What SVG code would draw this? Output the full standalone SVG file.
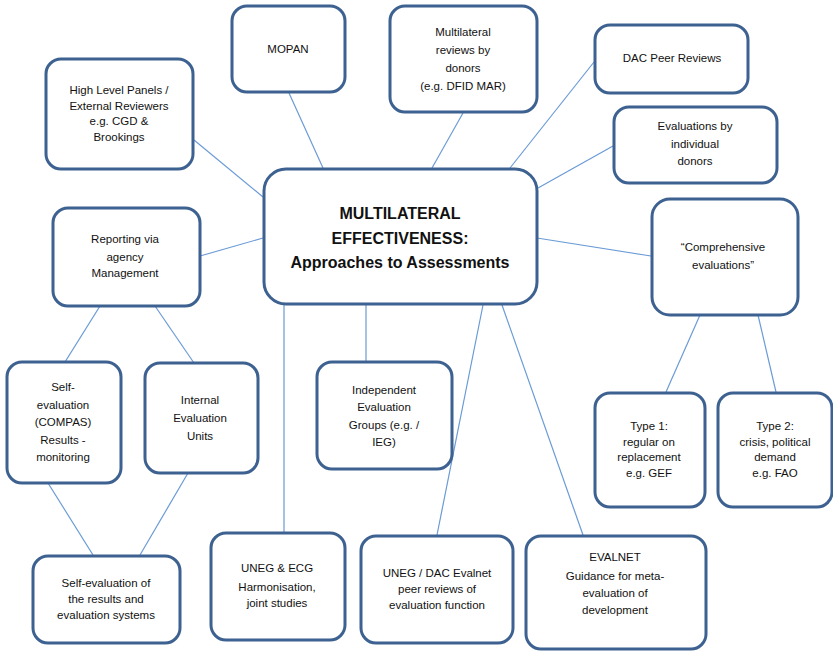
<svg xmlns="http://www.w3.org/2000/svg" width="833" height="651" viewBox="0 0 833 651">
<style>
.box{fill:#fff;stroke:#3d6190;stroke-width:3}
.ln{stroke:#6b9bd6;stroke-width:1.2;fill:none}
text{font-family:"Liberation Sans","Noto Sans",sans-serif;font-size:11.5px;fill:#111;text-anchor:middle}
.big{font-size:16px;font-weight:bold}
</style>
<rect width="833" height="651" fill="#fff"/>
<g id="connectors">
<line class="ln" x1="194" y1="140" x2="263" y2="197"/>
<line class="ln" x1="289" y1="93" x2="323" y2="168"/>
<line class="ln" x1="463" y1="113" x2="432" y2="168"/>
<line class="ln" x1="594" y1="62" x2="510" y2="168"/>
<line class="ln" x1="613" y1="146" x2="538" y2="188"/>
<line class="ln" x1="200" y1="256" x2="263" y2="238"/>
<line class="ln" x1="537" y1="238" x2="651" y2="256"/>
<line class="ln" x1="100" y1="306" x2="65" y2="362"/>
<line class="ln" x1="155" y1="306" x2="194" y2="363"/>
<line class="ln" x1="366" y1="305" x2="366" y2="361"/>
<line class="ln" x1="284" y1="305" x2="284" y2="532"/>
<line class="ln" x1="483" y1="305" x2="437" y2="535"/>
<line class="ln" x1="502" y1="305" x2="583" y2="535"/>
<line class="ln" x1="700" y1="315" x2="666" y2="392"/>
<line class="ln" x1="758" y1="315" x2="776" y2="392"/>
<line class="ln" x1="48" y1="483" x2="93" y2="555"/>
<line class="ln" x1="188" y1="473" x2="140" y2="555"/>
</g>
<g id="center">
<rect class="box" x="264" y="169" width="273" height="135" rx="22"/>
<text class="big" x="400" y="219">MULTILATERAL</text>
<text class="big" x="400" y="244">EFFECTIVENESS:</text>
<text class="big" x="400" y="268">Approaches to Assessments</text>
</g>
<g id="mopan">
<rect class="box" x="232" y="6" width="113" height="86" rx="15"/>
<text x="288" y="53">MOPAN</text>
</g>
<g id="highlevel">
<rect class="box" x="46" y="59" width="147" height="110" rx="15"/>
<text x="119" y="94">High Level Panels /</text>
<text x="119" y="110">External Reviewers</text>
<text x="119" y="125">e.g. CGD  &amp;</text>
<text x="119" y="141">Brookings</text>
</g>
<g id="multilateral">
<rect class="box" x="390" y="6" width="147" height="106" rx="15"/>
<text x="463" y="36">Multilateral</text>
<text x="463" y="54">reviews by</text>
<text x="463" y="72">donors</text>
<text x="463" y="90">(e.g. DFID MAR)</text>
</g>
<g id="dac">
<rect class="box" x="595" y="25" width="153" height="68" rx="15"/>
<text x="672" y="62">DAC Peer Reviews</text>
</g>
<g id="individual">
<rect class="box" x="614" y="107" width="163" height="76" rx="15"/>
<text x="695" y="130">Evaluations by</text>
<text x="695" y="148">individual</text>
<text x="695" y="165">donors</text>
</g>
<g id="comprehensive">
<rect class="box" x="652" y="199" width="146" height="116" rx="18"/>
<text x="723" y="251">“Comprehensive</text>
<text x="723" y="269">evaluations”</text>
</g>
<g id="reporting">
<rect class="box" x="53" y="208" width="147" height="98" rx="15"/>
<text x="125" y="243">Reporting via</text>
<text x="125" y="261">agency</text>
<text x="125" y="277">Management</text>
</g>
<g id="selfcompas">
<rect class="box" x="7" y="362" width="114" height="121" rx="15"/>
<text x="63" y="391">Self-</text>
<text x="63" y="409">evaluation</text>
<text x="63" y="426">(COMPAS)</text>
<text x="63" y="444">Results -</text>
<text x="63" y="461">monitoring</text>
</g>
<g id="internal">
<rect class="box" x="145" y="363" width="113" height="110" rx="15"/>
<text x="200" y="404">Internal</text>
<text x="200" y="422">Evaluation</text>
<text x="200" y="440">Units</text>
</g>
<g id="independent">
<rect class="box" x="317" y="362" width="135" height="107" rx="15"/>
<text x="384" y="394">Independent</text>
<text x="384" y="411">Evaluation</text>
<text x="384" y="429">Groups (e.g. /</text>
<text x="384" y="446">IEG)</text>
</g>
<g id="type1">
<rect class="box" x="595" y="393" width="110" height="114" rx="15"/>
<text x="649" y="430">Type 1:</text>
<text x="649" y="446">regular on</text>
<text x="649" y="461">replacement</text>
<text x="649" y="477">e.g. GEF</text>
</g>
<g id="type2">
<rect class="box" x="718" y="393" width="114" height="114" rx="15"/>
<text x="775" y="430">Type 2:</text>
<text x="775" y="446">crisis, political</text>
<text x="775" y="461">demand</text>
<text x="775" y="477">e.g. FAO</text>
</g>
<g id="selfresults">
<rect class="box" x="33" y="556" width="147" height="87" rx="15"/>
<text x="106" y="587">Self-evaluation of</text>
<text x="106" y="603">the results and</text>
<text x="106" y="619">evaluation systems</text>
</g>
<g id="unegecg">
<rect class="box" x="211" y="533" width="134" height="107" rx="15"/>
<text x="277" y="572">UNEG &amp; ECG</text>
<text x="277" y="591">Harmonisation,</text>
<text x="277" y="607">joint studies</text>
</g>
<g id="unegdac">
<rect class="box" x="361" y="536" width="152" height="107" rx="15"/>
<text x="437" y="577">UNEG / DAC Evalnet</text>
<text x="437" y="593">peer reviews of</text>
<text x="437" y="609">evaluation function</text>
</g>
<g id="evalnet">
<rect class="box" x="526" y="536" width="180" height="113" rx="15"/>
<text x="615" y="561">EVALNET</text>
<text x="615" y="580">Guidance for meta-</text>
<text x="615" y="597">evaluation of</text>
<text x="615" y="614">development</text>
</g>
</svg>
